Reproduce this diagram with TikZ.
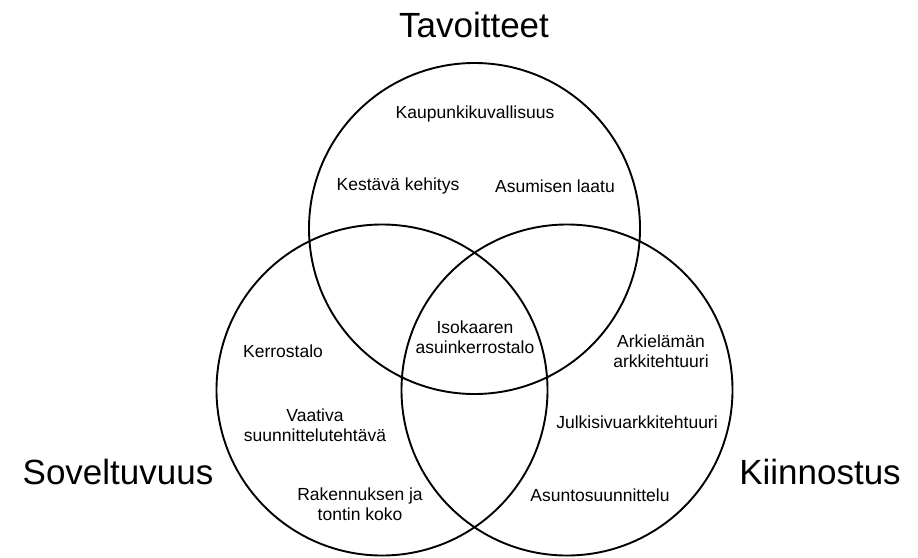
\documentclass[tikz,border=0pt]{standalone}
\usepackage{fontspec}
\setmainfont{Liberation Sans}
\begin{document}
\begin{tikzpicture}[x=1pt,y=-1pt,
  set/.style={circle,draw=black,line width=1.9pt,minimum size=331pt,inner sep=0pt},
  item/.style={align=center,inner sep=0pt,font=\fontsize{17.5}{19.5}\selectfont},
  title/.style={inner sep=0pt,font=\fontsize{35}{40}\selectfont}]
\useasboundingbox (0,0) rectangle (918,557);
\node[set] (ctop) at (474.5,228.5) {};
\node[set] (cleft) at (382,390) {};
\node[set] (cright) at (567,390) {};
\node[title] (ttop) at (474,25) {Tavoitteet};
\node[title] (tleft) at (118,472) {Soveltuvuus};
\node[title] (tright) at (820,472) {Kiinnostus};
\node[item] (kaup) at (475,114) {Kaupunkikuvallisuus};
\node[item] (kest) at (398,186) {Kestävä kehitys};
\node[item] (asum) at (555,186) {Asumisen laatu};
\node[item] (iso) at (475,337) {Isokaaren\\asuinkerrostalo};
\node[item] (kerr) at (283,351) {Kerrostalo};
\node[item] (vaat) at (315,425) {Vaativa\\suunnittelutehtävä};
\node[item] (rak) at (360,504) {Rakennuksen ja\\tontin koko};
\node[item] (ark) at (661,351) {Arkielämän\\arkkitehtuuri};
\node[item] (julk) at (637,422) {Julkisivuarkkitehtuuri};
\node[item] (asun) at (600,495) {Asuntosuunnittelu};
\end{tikzpicture}
\end{document}
